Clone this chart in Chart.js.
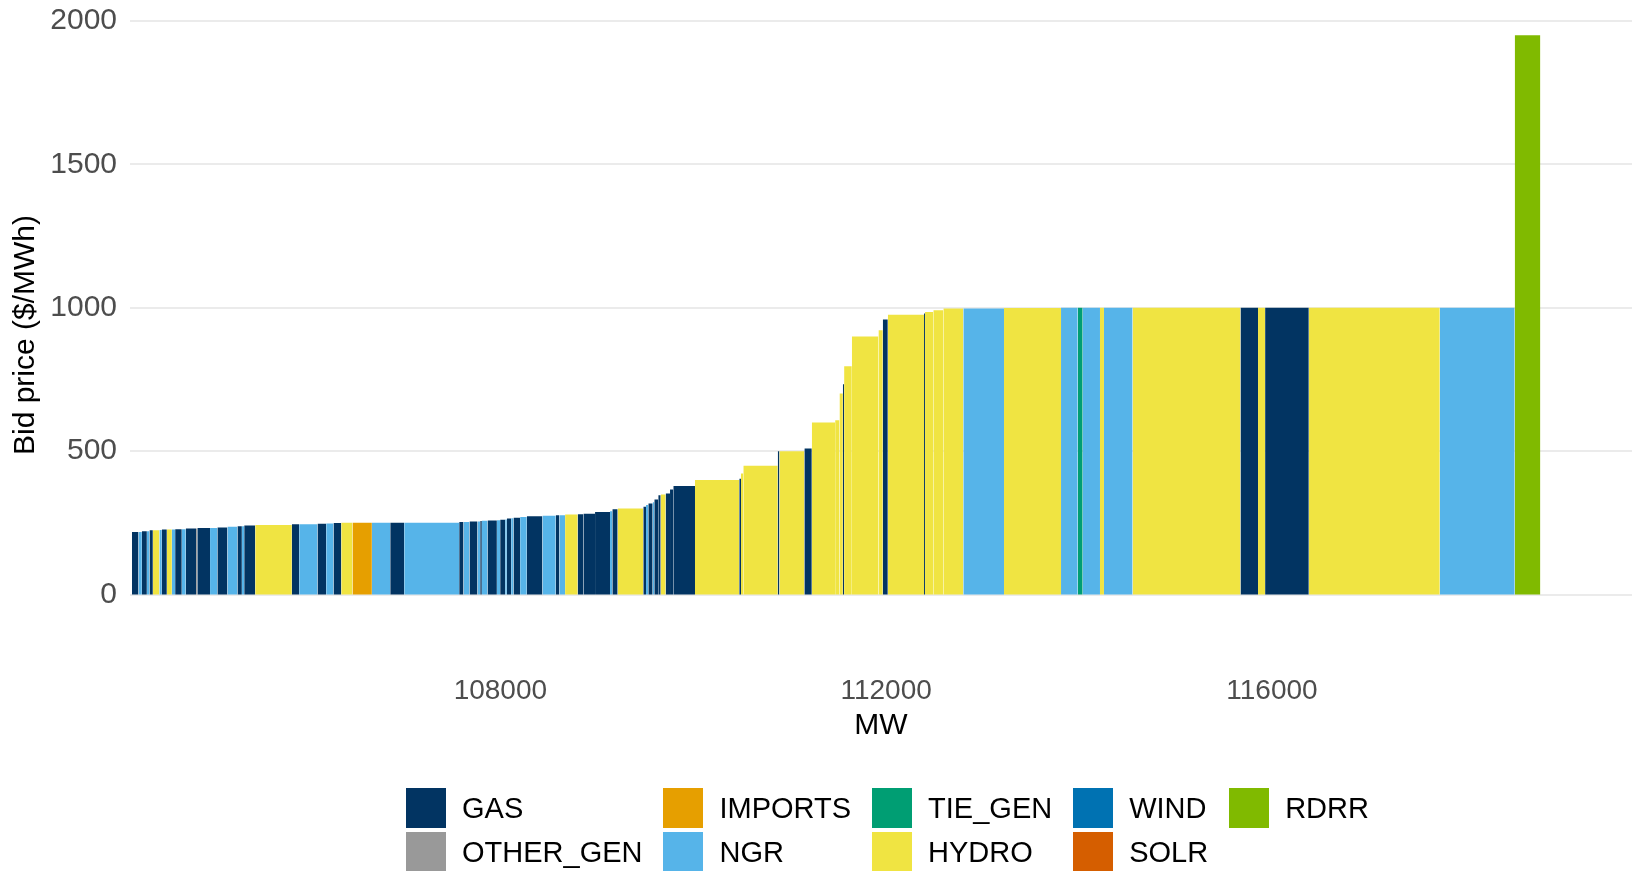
<!DOCTYPE html>
<html>
<head>
<meta charset="utf-8">
<title>Bid stack</title>
<script src="https://cdn.jsdelivr.net/npm/chart.js@4.4.1/dist/chart.umd.min.js"></script>
<style>
  body { margin: 0; background: #fff; }
  #wrap { position: relative; width: 1632px; height: 871px; }
  #bidChart { position: absolute; left: 0; top: 0; }
  .legend {
    position: absolute;
    left: 406px;
    top: 788px;
    display: grid;
    grid-auto-flow: column;
    grid-template-rows: 40px 40px;
    row-gap: 4px;
    column-gap: 21px;
    font-family: "Liberation Sans", Arial, sans-serif;
    font-size: 29px;
    color: #000;
  }
  .legend__item { display: flex; align-items: center; white-space: nowrap; }
  .legend__box { width: 40px; height: 40px; margin-right: 16px; }
</style>
</head>
<body>
<div id="wrap">
  <canvas id="bidChart" width="1632" height="871"></canvas>
  <div class="legend" id="legend"></div>
</div>
<script>
// fuel types in legend order
const fuelTypes = ["GAS", "OTHER_GEN", "IMPORTS", "NGR", "TIE_GEN", "HYDRO", "WIND", "SOLR", "RDRR"];

// bids sorted by price: fuel, size (MW) and bid price ($/MWh)
const startMW = 104180;
const bidFuel = [
  "GAS", "NGR", "GAS", "NGR", "GAS", "HYDRO", "NGR", "GAS", "HYDRO", "NGR",
  "GAS", "NGR", "GAS", "OTHER_GEN", "GAS", "NGR", "GAS", "NGR", "GAS", "NGR",
  "GAS", "HYDRO", "GAS", "NGR", "GAS", "NGR", "GAS", "HYDRO", "IMPORTS", "NGR",
  "GAS", "NGR", "GAS", "NGR", "GAS", "NGR", "GAS", "NGR", "GAS", "NGR",
  "GAS", "NGR", "GAS", "NGR", "GAS", "NGR", "GAS", "NGR", "GAS", "NGR",
  "HYDRO", "GAS", "GAS", "GAS", "NGR", "GAS", "HYDRO", "GAS", "NGR", "GAS",
  "NGR", "GAS", "GAS", "HYDRO", "GAS", "GAS", "GAS", "HYDRO", "GAS", "HYDRO",
  "HYDRO", "GAS", "HYDRO", "GAS", "HYDRO", "HYDRO", "HYDRO", "GAS", "HYDRO", "HYDRO",
  "HYDRO", "GAS", "HYDRO", "GAS", "HYDRO", "HYDRO", "HYDRO", "NGR", "HYDRO", "NGR",
  "TIE_GEN", "NGR", "HYDRO", "NGR", "HYDRO", "GAS", "HYDRO", "GAS", "HYDRO", "NGR",
  "RDRR"
];
const bidMW = [
  68, 35, 52, 27, 35, 68, 25, 52, 52, 34,
  69, 41, 107, 13, 132, 76, 104, 104, 46, 24,
  114, 380, 76, 190, 90, 76, 80, 117, 201, 190,
  145, 570, 45, 62, 83, 28, 17, 59, 97, 34,
  52, 17, 45, 24, 69, 69, 162, 138, 38, 59,
  131, 59, 121, 155, 24, 55, 266, 28, 24, 45,
  17, 41, 25, 52, 45, 34, 225, 459, 18, 24,
  357, 17, 259, 77, 242, 45, 35, 13, 80, 276,
  45, 52, 376, 10, 86, 104, 207, 422, 591, 173,
  52, 179, 41, 297, 1119, 182, 73, 453, 1358, 777,
  266
];
const bidPrice = [
  218, 218, 221, 221, 224, 224, 225, 227, 227, 227,
  228, 228, 230, 230, 232, 232, 234, 236, 238, 238,
  241, 242, 245, 245, 247, 248, 249, 250, 250, 250,
  250, 250, 253, 253, 255, 255, 256, 257, 258, 259,
  261, 262, 265, 266, 268, 270, 273, 275, 276, 276,
  279, 280, 282, 288, 290, 297, 300, 306, 312, 317,
  322, 331, 346, 349, 352, 366, 378, 399, 404, 422,
  449, 500, 500, 509, 600, 608, 701, 733, 796, 900,
  922, 959, 976, 980, 985, 991, 997, 997, 999, 1000,
  1000, 1000, 1000, 1000, 1000, 1000, 1000, 1000, 1000, 1000,
  1950
];

const xTickValues = [108000, 112000, 116000];
const yTickValues = [0, 500, 1000, 1500, 2000];

const fuelColors = {
  GAS: "#023462",
  OTHER_GEN: "#999999",
  IMPORTS: "#E69F00",
  NGR: "#56B4E9",
  TIE_GEN: "#009E73",
  HYDRO: "#F0E442",
  WIND: "#0072B2",
  SOLR: "#D55E00",
  RDRR: "#80BA00",
};

const fontFamily = '"Liberation Sans", Arial, sans-serif';

// one filled line per fuel, each bid is a flat step with a gap after it
let datasets = fuelTypes.map((fuel) => ({
  label: fuel,
  data: [],
  backgroundColor: fuelColors[fuel],
  borderColor: "transparent",
  borderWidth: 0,
  pointRadius: 0,
  pointHoverRadius: 0,
  fill: "origin",
  spanGaps: false,
  tension: 0,
}));

let cursor = startMW;
bidMW.forEach((mw, i) => {
  const ds = datasets[fuelTypes.indexOf(bidFuel[i])];
  ds.data.push(
    { x: cursor, y: bidPrice[i] },
    { x: cursor + mw, y: bidPrice[i] },
    { x: cursor + mw, y: null }
  );
  cursor += mw;
});

const config = {
  type: "line",
  data: { datasets: datasets },
  options: {
    responsive: false,
    animation: false,
    devicePixelRatio: 1,
    layout: { padding: { top: 21, right: 0, bottom: 127, left: 0 } },
    plugins: {
      legend: { display: false },
      tooltip: { enabled: false },
    },
    scales: {
      x: {
        type: "linear",
        min: 104160,
        max: 119733,
        afterBuildTicks: (axis) => {
          axis.ticks = xTickValues.map((v) => ({ value: v }));
        },
        afterFit: (axis) => {
          axis.height = 95;
        },
        grid: { display: false, drawTicks: false },
        border: { display: false },
        ticks: {
          color: "#4d4d4d",
          font: { family: fontFamily, size: 28 },
          padding: 25,
          maxRotation: 0,
          autoSkip: false,
          callback: (v) => String(v),
        },
        title: {
          display: true,
          text: "MW",
          color: "#000",
          font: { family: fontFamily, size: 30 },
          padding: { top: 0, bottom: 0 },
        },
      },
      y: {
        type: "linear",
        min: -190,
        max: 2000,
        afterBuildTicks: (axis) => {
          axis.ticks = yTickValues.map((v) => ({ value: v }));
        },
        afterFit: (axis) => {
          // fixed axis width, and let the top label hang into the margin
          axis.width = 130;
          axis.paddingTop = 0;
          axis.paddingBottom = 0;
        },
        grid: { color: "#ebebeb", lineWidth: 2, drawTicks: false },
        border: { display: false },
        ticks: {
          color: "#4d4d4d",
          font: { family: fontFamily, size: 30 },
          padding: 13,
          callback: (v) => String(v),
        },
        title: {
          display: true,
          text: "Bid price ($/MWh)",
          color: "#000",
          font: { family: fontFamily, size: 30 },
          padding: { top: 8, bottom: 0 },
        },
      },
    },
  },
};

new Chart(document.getElementById("bidChart"), config);

// legend: two rows, filled column by column like the original
const legendContainer = document.getElementById("legend");
fuelTypes.forEach((fuel) => {
  let item = document.createElement("div");
  item.classList.add("legend__item");
  item.innerHTML = `<span class="legend__box" style="background:${fuelColors[fuel]}"></span><span>${fuel}</span>`;
  legendContainer.appendChild(item);
});
</script>
</body>
</html>
